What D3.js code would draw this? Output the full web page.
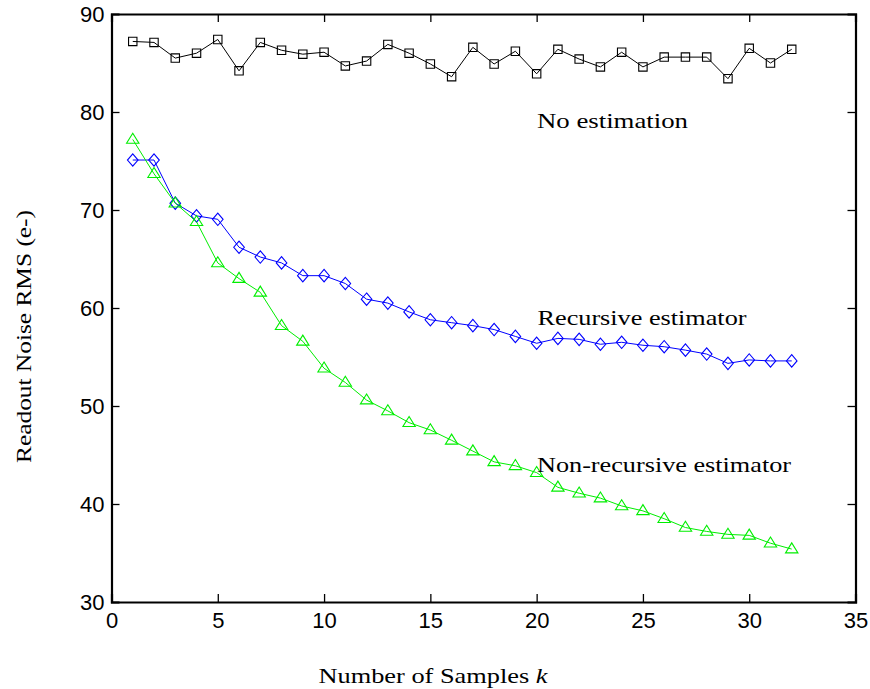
<!DOCTYPE html>
<html>
<head>
<meta charset="utf-8">
<script src="https://cdn.jsdelivr.net/npm/d3@7"></script>
<style>
  html, body { margin: 0; padding: 0; background: #fff; }
  svg { display: block; }
</style>
</head>
<body>
<script>
// ---- data ----
const samples = d3.range(1, 33);
const noEstimation = [87.2, 87.1, 85.5, 86.0, 87.4, 84.2, 87.1, 86.3, 85.9, 86.1,
  84.7, 85.2, 86.9, 86.0, 84.9, 83.6, 86.6, 84.9, 86.2, 83.9,
  86.4, 85.4, 84.6, 86.1, 84.6, 85.6, 85.6, 85.6, 83.4, 86.5, 85.0, 86.4];
const recursive = [75.1, 75.1, 70.7, 69.4, 69.05, 66.2, 65.2, 64.6, 63.3, 63.3,
  62.5, 60.9, 60.5, 59.6, 58.8, 58.5, 58.2, 57.8, 57.1, 56.4,
  56.9, 56.8, 56.3, 56.5, 56.2, 56.05, 55.7, 55.3, 54.35, 54.7, 54.6, 54.6];
const nonRecursive = [77.2, 73.7, 70.7, 68.8, 64.6, 63.0, 61.6, 58.2, 56.6, 53.85,
  52.4, 50.6, 49.5, 48.3, 47.55, 46.5, 45.4, 44.3, 43.9, 43.2,
  41.7, 41.1, 40.6, 39.8, 39.3, 38.5, 37.6, 37.2, 36.9, 36.8, 36.0, 35.4];
const xTicks = [0, 5, 10, 15, 20, 25, 30, 35];
const yTicks = [30, 40, 50, 60, 70, 80, 90];
const seriesNames = ["No estimation", "Recursive estimator", "Non-recursive estimator"];

// ---- layout ----
const W = 870, H = 689;
const L = 111.5, R = 855.5, T = 14, B = 602;

const svg = d3.select("body").append("svg").attr("width", W).attr("height", H);
const x = d3.scaleLinear().domain([0, 35]).range([L, R]);
const y = d3.scaleLinear().domain([30, 90]).range([B, T]);

const tickFont = "'Liberation Sans', Arial, Helvetica, sans-serif";
const serif = "'Liberation Serif', 'DejaVu Serif', serif";

// axes (ticks inward, mirrored box)
const axB = svg.append("g").attr("transform", `translate(0,${B})`)
  .call(d3.axisBottom(x).tickValues(xTicks).tickSize(-8).tickPadding(14).tickFormat(d3.format("d")));
const axT = svg.append("g").attr("transform", `translate(0,${T})`)
  .call(d3.axisTop(x).tickValues(xTicks).tickSize(-8).tickFormat(""));
const axL = svg.append("g").attr("transform", `translate(${L},0)`)
  .call(d3.axisLeft(y).tickValues(yTicks).tickSize(-8).tickPadding(7).tickFormat(d3.format("d")));
const axR = svg.append("g").attr("transform", `translate(${R},0)`)
  .call(d3.axisRight(y).tickValues(yTicks).tickSize(-8).tickFormat(""));
[axB, axT, axL, axR].forEach(g => {
  g.select(".domain").attr("stroke", "#000").attr("stroke-width", 2.2);
  g.selectAll(".tick line").attr("stroke", "#000").attr("stroke-width", 1.3);
  g.selectAll(".tick text").attr("fill", "#000").style("font-family", tickFont).style("font-size", "22px");
});
axB.selectAll(".tick text").attr("dy", "0.55em");
axL.selectAll(".tick text").attr("dy", "0.36em");
// hide tick marks at the box corners
[axB, axT].forEach(g => g.selectAll(".tick line").filter(d => d === 0 || d === 35).remove());
[axL, axR].forEach(g => g.selectAll(".tick line").filter(d => d === 30 || d === 90).remove());

// ---- series ----
const line = d3.line().x((d, i) => x(samples[i])).y(d => y(d));

function squarePath(s) { return `M${-s},${-s}H${s}V${s}H${-s}Z`; }
function diamondPath(w, h) { return `M0,${-h}L${w},0L0,${h}L${-w},0Z`; }
function trianglePath(w, h) { return `M0,${-h * 0.62}L${w},${h * 0.38}L${-w},${h * 0.38}Z`; }

const series = [
  { name: seriesNames[0], values: noEstimation, color: "#000000", marker: squarePath(4.2) },
  { name: seriesNames[1], values: recursive, color: "#0000ff", marker: diamondPath(5.3, 6.2) },
  { name: seriesNames[2], values: nonRecursive, color: "#00ee00", marker: trianglePath(6.2, 10) }
];

series.forEach(s => {
  svg.append("path").datum(s.values)
    .attr("d", line).attr("fill", "none")
    .attr("stroke", s.color).attr("stroke-width", 1);
  svg.append("g").selectAll("path").data(s.values).join("path")
    .attr("transform", (d, i) => `translate(${x(samples[i])},${y(d)})`)
    .attr("d", s.marker)
    .attr("fill", "none").attr("stroke", s.color).attr("stroke-width", 1.1);
});

// ---- annotations ----
const notes = [
  { text: seriesNames[0], x: 537, y: 128, len: 151 },
  { text: seriesNames[1], x: 537.5, y: 325, len: 209 },
  { text: seriesNames[2], x: 537, y: 472, len: 254 }
];
notes.forEach(n => {
  svg.append("text").attr("x", n.x).attr("y", n.y)
    .attr("textLength", n.len).attr("lengthAdjust", "spacingAndGlyphs")
    .style("font-family", serif).style("font-size", "21px").attr("fill", "#000")
    .text(n.text);
});

// axis titles
const xt = svg.append("text").attr("x", 318.5).attr("y", 683)
  .attr("textLength", 229).attr("lengthAdjust", "spacingAndGlyphs")
  .style("font-family", serif).style("font-size", "21px").attr("fill", "#000");
xt.append("tspan").text("Number of Samples ");
xt.append("tspan").style("font-style", "italic").text("k");

svg.append("text")
  .attr("transform", "translate(31,463) rotate(-90)")
  .attr("textLength", 253).attr("lengthAdjust", "spacingAndGlyphs")
  .style("font-family", serif).style("font-size", "21px").attr("fill", "#000")
  .text("Readout Noise RMS (e-)");
</script>
</body>
</html>
